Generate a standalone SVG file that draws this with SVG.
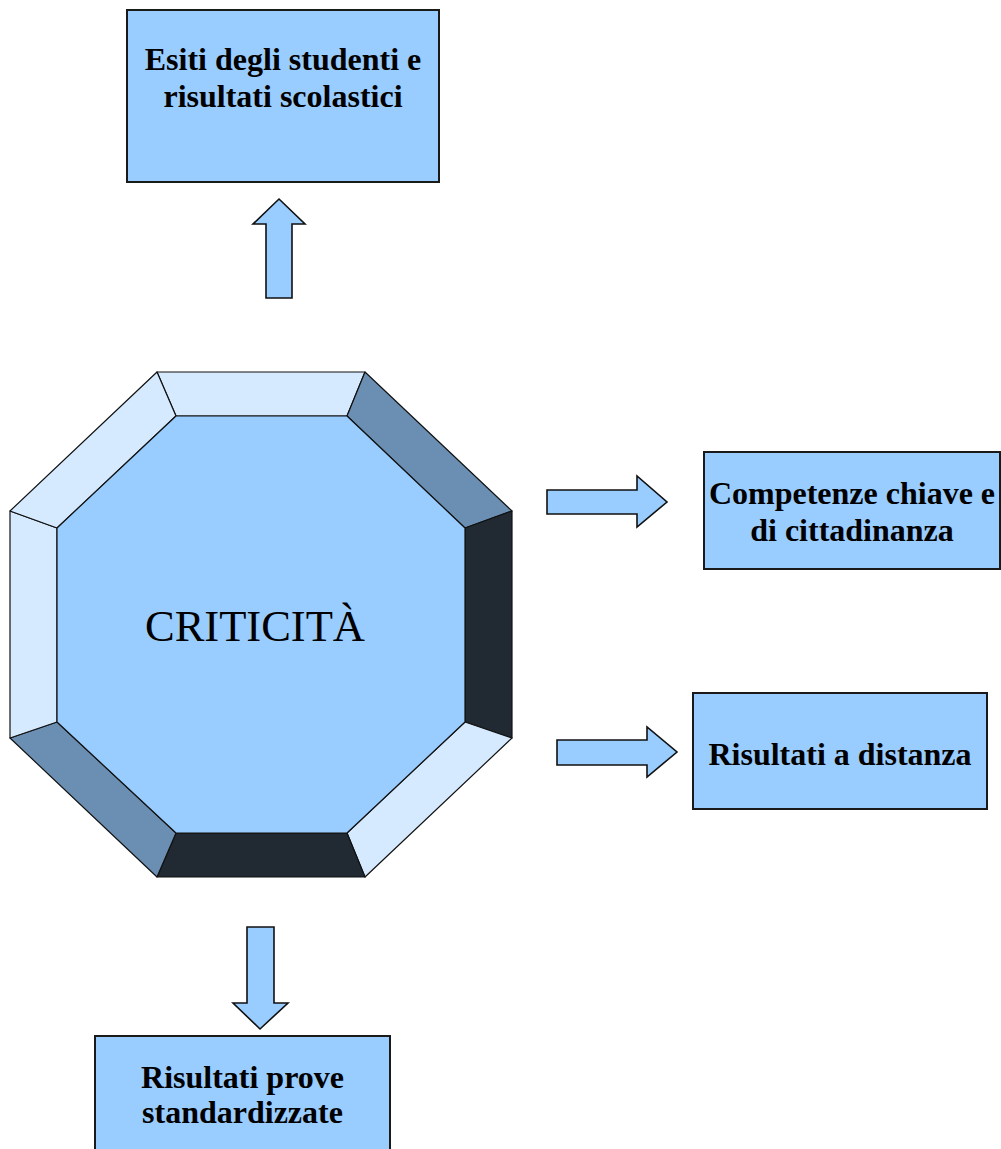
<svg xmlns="http://www.w3.org/2000/svg" width="1001" height="1149" viewBox="0 0 1001 1149">
<style>
.box{fill:#99CCFF;stroke:#1a1a1a;stroke-width:2}
.arrow{fill:#99CCFF;stroke:#111;stroke-width:1.6;stroke-linejoin:miter}
.lbl{font-family:"Liberation Serif","Times New Roman",serif;font-weight:bold;font-size:32px;fill:#000;text-anchor:middle}
.facet{stroke:#111;stroke-width:1.2;stroke-linejoin:round}
.light{fill:#D6EAFF}
.mid{fill:#6B8FB3}
.dark{fill:#212A33}
</style>
<rect width="1001" height="1149" fill="#fff"/>
<g id="criticita">
<polygon class="facet light" points="157,372 365,372 347,416 176,416"/>
<polygon class="facet mid" points="365,372 512,511 465,528 347,416"/>
<polygon class="facet dark" points="512,511 512,738 465,722 465,528"/>
<polygon class="facet light" points="512,738 365,877 347,833 465,722"/>
<polygon class="facet dark" points="365,877 157,877 176,833 347,833"/>
<polygon class="facet mid" points="157,877 10,738 57,722 176,833"/>
<polygon class="facet light" points="10,738 10,511 57,528 57,722"/>
<polygon class="facet light" points="10,511 157,372 176,416 57,528"/>
<polygon class="facet" fill="#99CCFF" points="176,416 347,416 465,528 465,722 347,833 176,833 57,722 57,528"/>
<text x="255" y="641" font-family="Liberation Serif,'Times New Roman',serif" font-size="44.5" text-anchor="middle" fill="#000">CRITICITÀ</text>
</g>
<g id="connectors">
<polygon class="arrow" points="279,199 305,224 292,224 292,298 266,298 266,224 253,224"/>
<polygon class="arrow" points="547,490 637,490 637,476 667,502 637,527 637,514 547,514"/>
<polygon class="arrow" points="557,740 647,740 647,727 677,752 647,777 647,765 557,765"/>
<polygon class="arrow" points="247,927 274,927 274,1003 288,1003 260,1029 233,1003 247,1003"/>
</g>
<g id="esiti">
<rect class="box" x="127" y="10" width="312" height="172"/>
<text class="lbl" x="283" y="70">Esiti degli studenti e</text>
<text class="lbl" x="283" y="107">risultati scolastici</text>
</g>
<g id="competenze">
<rect class="box" x="704" y="452" width="296" height="117"/>
<text class="lbl" x="852" y="504">Competenze chiave e</text>
<text class="lbl" x="852" y="541">di cittadinanza</text>
</g>
<g id="distanza">
<rect class="box" x="693" y="693" width="294" height="116"/>
<text class="lbl" x="840" y="765">Risultati a distanza</text>
</g>
<g id="prove">
<rect class="box" x="95" y="1036" width="295" height="120"/>
<text class="lbl" x="242.5" y="1088">Risultati prove</text>
<text class="lbl" x="242.5" y="1123">standardizzate</text>
</g>
</svg>
